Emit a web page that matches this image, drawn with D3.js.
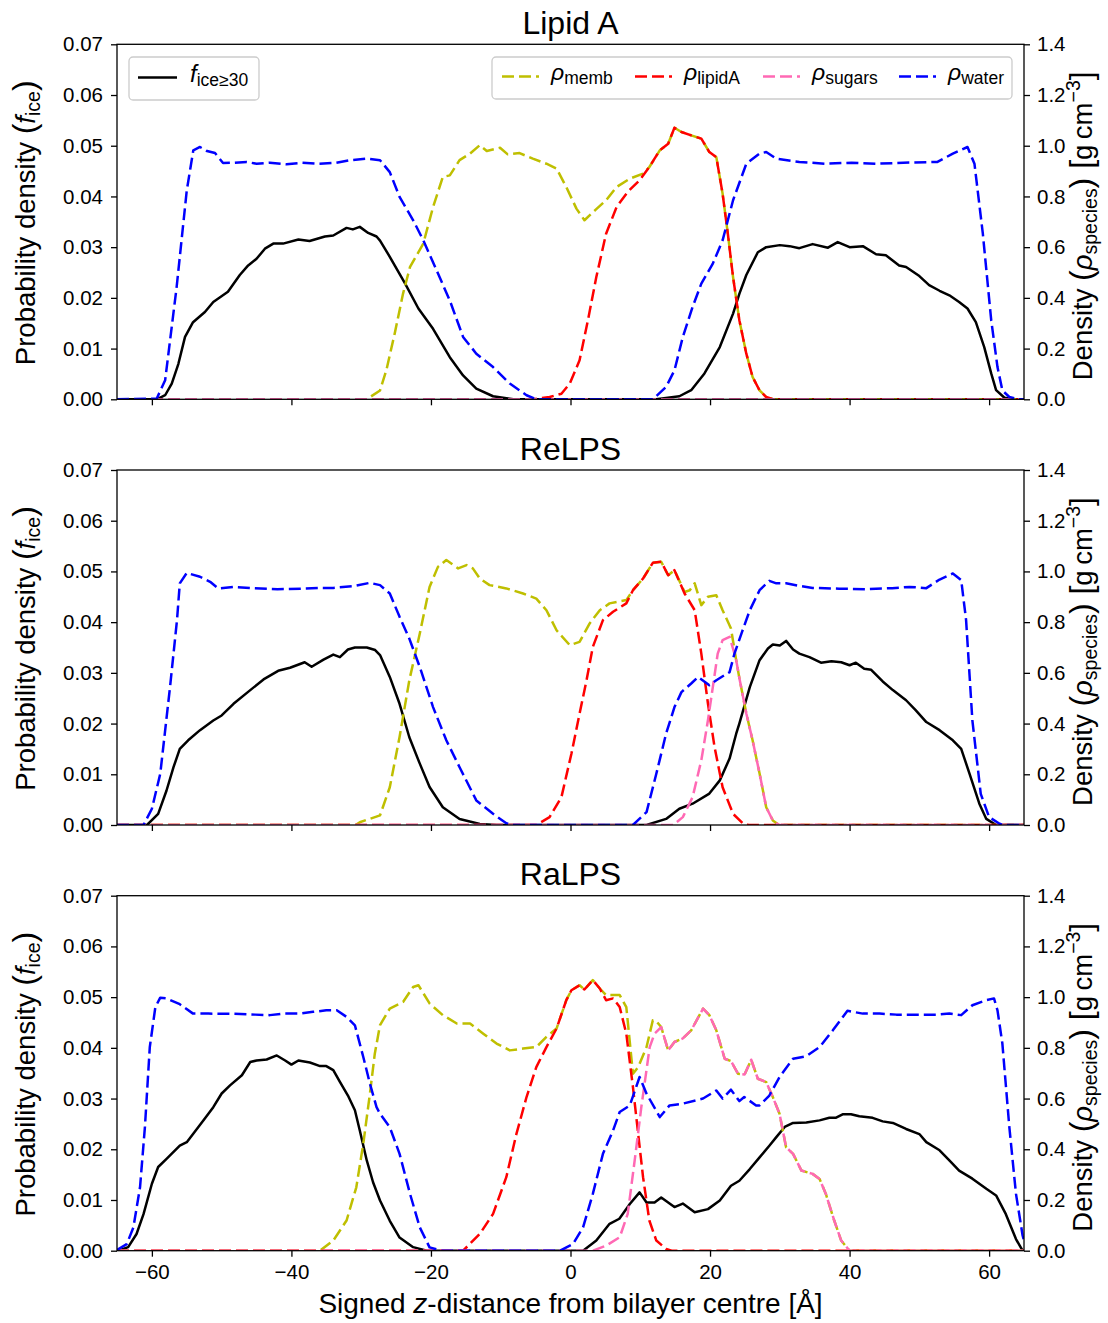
<!DOCTYPE html>
<html>
<head>
<meta charset="utf-8">
<script src="https://cdn.jsdelivr.net/npm/d3@7"></script>
<style>
  body { margin: 0; background: #fff; }
  svg { font-family: "Liberation Sans", Arial, Helvetica, sans-serif; }
</style>
</head>
<body>
<script>
'use strict';

// ---- data: [z (Angstrom), value] ----
// f_ice on left axis, densities (g cm^-3) on right axis

const panelTitles = ['Lipid A', 'ReLPS', 'RaLPS'];
const xTicks = [-60, -40, -20, 0, 20, 40, 60];
const leftTicks = [0, 0.01, 0.02, 0.03, 0.04, 0.05, 0.06, 0.07];
const rightTicks = [0, 0.2, 0.4, 0.6, 0.8, 1.0, 1.2, 1.4];

// Lipid A
const lipidA_fice = [[-65,0],[-59.3,0],[-58.1,0.0008],[-57.15,0.0031],[-56.2,0.0070],[-55.25,0.0123],[-54.1,0.0152],[-52.4,0.0172],[-51.2,0.0192],[-49.1,0.0212],[-47.4,0.0245],[-46.2,0.0264],[-45.0,0.0277],[-43.8,0.0297],[-42.6,0.0307],[-41.2,0.0307],[-39.0,0.0315],[-37.4,0.0312],[-35.2,0.0321],[-34.0,0.0323],[-32.1,0.0338],[-31.2,0.0335],[-30.2,0.0340],[-29.0,0.0328],[-27.8,0.0321],[-27.3,0.0313],[-25.9,0.0281],[-23.7,0.0228],[-21.8,0.0179],[-19.7,0.0139],[-17.3,0.0083],[-15.4,0.0047],[-13.5,0.0021],[-11.1,0.0006],[-8.2,0],[12.3,0],[15.6,0.0006],[17.3,0.0018],[19.2,0.0051],[21.4,0.0103],[23.3,0.0169],[24.2,0.0208],[25.2,0.0245],[26.85,0.029],[28.05,0.030],[30.0,0.0304],[31.4,0.0302],[32.8,0.0298],[34.7,0.0306],[36.9,0.0299],[38.3,0.031],[40.0,0.030],[41.9,0.0302],[43.8,0.0286],[45.2,0.0284],[47.1,0.0264],[48.1,0.0261],[50.0,0.0243],[51.4,0.0225],[52.9,0.0214],[54.3,0.0205],[55.7,0.0192],[56.9,0.0179],[58.1,0.0152],[59.3,0.0103],[60.3,0.0051],[61.0,0.0018],[62.2,0.0003],[63.5,0],[65,0]];
const lipidA_memb = [[-65,0],[-29.2,0],[-27.3,0.035],[-26.4,0.114],[-25.2,0.259],[-24.0,0.417],[-23.0,0.522],[-21.1,0.614],[-19.7,0.758],[-18.3,0.877],[-17.3,0.883],[-15.9,0.943],[-14.4,0.969],[-13.0,1.002],[-12.0,0.979],[-10.1,0.992],[-9.0,0.966],[-7.3,0.971],[-5.4,0.949],[-3.45,0.929],[-2.0,0.91],[-0.6,0.837],[0.85,0.752],[2.0,0.706],[3.5,0.745],[5.1,0.785],[6.6,0.837],[8.5,0.870],[10.4,0.89],[11.3,0.916],[12.8,0.982],[14.0,1.008],[14.9,1.071],[15.9,1.054],[17.3,1.041],[18.75,1.028],[19.9,0.975],[20.9,0.955],[21.8,0.811],[22.55,0.653],[23.3,0.482],[24.2,0.312],[25.2,0.18],[26.1,0.088],[27.1,0.035],[28.05,0.009],[29,0],[65,0]];
const lipidA_lipidA = [[-65,0],[-5.4,0],[-3.0,0.009],[-1.3,0.022],[-0.1,0.062],[1.3,0.154],[2.5,0.312],[3.7,0.482],[5.1,0.653],[6.6,0.758],[8.2,0.818],[9.9,0.864],[11.3,0.916],[12.8,0.982],[14.0,1.008],[14.9,1.071],[15.9,1.054],[17.3,1.041],[18.75,1.028],[19.9,0.975],[20.9,0.955],[21.8,0.811],[22.55,0.653],[23.3,0.482],[24.2,0.312],[25.2,0.18],[26.1,0.088],[27.1,0.035],[28.05,0.009],[29,0],[65,0]];
const lipidA_sugars = [[-65,0],[65,0]];
const lipidA_water = [[-65,0],[-59.3,0.003],[-58.1,0.075],[-56.45,0.443],[-55.0,0.824],[-54.06,0.982],[-53.1,0.995],[-52.1,0.979],[-50.95,0.971],[-49.8,0.932],[-48.3,0.933],[-46.4,0.936],[-45.0,0.929],[-43.1,0.933],[-40.7,0.927],[-38.5,0.933],[-36.1,0.929],[-33.8,0.932],[-31.6,0.943],[-29.2,0.949],[-27.3,0.943],[-25.9,0.896],[-24.5,0.798],[-22.55,0.706],[-21.1,0.627],[-19.2,0.509],[-17.3,0.39],[-15.4,0.246],[-13.5,0.18],[-11.1,0.127],[-8.7,0.062],[-6.3,0.016],[-4.9,0],[11.8,0],[13.7,0.049],[14.9,0.114],[16.1,0.246],[17.5,0.364],[18.75,0.456],[20.4,0.535],[21.8,0.627],[23.3,0.785],[25.2,0.929],[27.1,0.969],[28.05,0.975],[29.5,0.949],[32.8,0.936],[36.6,0.929],[40.3,0.933],[43.9,0.929],[47.7,0.933],[52.6,0.936],[54.8,0.969],[56.9,0.995],[57.9,0.929],[59.1,0.653],[60.3,0.312],[61.2,0.127],[61.9,0.035],[62.9,0.009],[64.2,0],[65,0]];

// ReLPS
const reLPS_fice = [[-65,0],[-60.7,0],[-59.1,0.0022],[-57.9,0.0068],[-56.9,0.0114],[-56.0,0.015],[-54.8,0.0167],[-53.1,0.0187],[-51.2,0.0206],[-50.0,0.0216],[-48.3,0.0239],[-45.9,0.0266],[-44.0,0.0287],[-41.9,0.0304],[-40.2,0.031],[-38.1,0.0321],[-37.1,0.0312],[-35.4,0.0326],[-34.0,0.0336],[-33.05,0.0331],[-31.9,0.0346],[-30.9,0.035],[-29.2,0.035],[-28.0,0.0345],[-27.3,0.0335],[-25.9,0.0292],[-24.5,0.0239],[-23.1,0.0173],[-21.6,0.0121],[-20.2,0.0075],[-18.3,0.0035],[-15.9,0.0012],[-13.0,0.0002],[-10.6,0],[10.9,0],[13.7,0.0012],[15.6,0.0032],[17.5,0.0042],[19.9,0.0062],[21.4,0.0088],[22.8,0.0131],[23.75,0.018],[24.2,0.02],[25.7,0.0272],[27.1,0.0325],[28.3,0.0348],[29.0,0.0356],[30.0,0.0354],[30.9,0.0363],[31.9,0.0346],[32.8,0.0338],[34.25,0.0331],[35.9,0.032],[37.4,0.0323],[38.8,0.0321],[40.0,0.0315],[40.9,0.032],[42.1,0.0308],[43.1,0.0306],[44.75,0.0283],[46.2,0.0266],[48.1,0.0246],[49.5,0.0226],[51.0,0.0203],[52.9,0.0187],[54.8,0.0167],[56.0,0.015],[57.2,0.0101],[58.6,0.0042],[59.6,0.0012],[61.0,0],[65,0]];
const reLPS_memb = [[-65,0],[-30.8,0],[-30.2,0.011],[-27.3,0.038],[-25.9,0.149],[-24.5,0.347],[-23.1,0.571],[-21.6,0.755],[-20.2,0.939],[-19.0,1.018],[-17.8,1.045],[-16.1,1.012],[-14.9,1.025],[-14.0,1.012],[-13.0,0.972],[-11.6,0.946],[-9.2,0.933],[-6.8,0.913],[-4.9,0.893],[-3.45,0.847],[-2.0,0.768],[-0.1,0.709],[1.3,0.722],[2.75,0.795],[4.2,0.847],[5.6,0.874],[8.0,0.887],[8.95,0.926],[10.4,0.972],[11.8,1.034],[13.0,1.038],[14.0,0.985],[14.9,1.005],[16.35,0.919],[17.1,0.926],[17.8,0.953],[18.75,0.867],[19.7,0.9],[20.9,0.906],[21.8,0.847],[23.0,0.775],[23.75,0.65],[24.2,0.58],[25.2,0.44],[26.1,0.334],[27.1,0.203],[28.05,0.07],[29.0,0.018],[29.9,0],[65,0]];
const reLPS_lipidA = [[-65,0],[-4.9,0],[-3.0,0.031],[-1.3,0.11],[0.13,0.281],[1.3,0.439],[2.3,0.571],[3.2,0.702],[4.65,0.808],[6.1,0.841],[8.0,0.874],[8.95,0.926],[10.4,0.972],[11.8,1.034],[13.0,1.038],[14.0,0.985],[14.9,1.005],[16.35,0.913],[17.8,0.847],[18.75,0.676],[19.7,0.479],[20.65,0.307],[21.8,0.149],[23.3,0.044],[24.7,0.007],[25.5,0],[65,0]];
const reLPS_sugars = [[-65,0],[14.7,0],[16.1,0.031],[17.5,0.11],[18.75,0.255],[19.7,0.413],[20.4,0.544],[21.1,0.676],[21.8,0.729],[22.8,0.742],[23.5,0.676],[23.75,0.65],[24.2,0.58],[25.2,0.44],[26.1,0.334],[27.1,0.203],[28.05,0.07],[29.0,0.018],[29.9,0],[65,0]];
const reLPS_water = [[-65,0],[-61.2,0],[-60.0,0.064],[-58.8,0.202],[-57.4,0.544],[-56.4,0.808],[-56.0,0.953],[-55.0,0.994],[-53.1,0.979],[-51.65,0.959],[-50.5,0.933],[-48.3,0.939],[-45.5,0.934],[-42.0,0.930],[-38.7,0.932],[-36.0,0.935],[-34.0,0.935],[-31.15,0.942],[-28.75,0.955],[-27.3,0.946],[-25.9,0.913],[-24.5,0.821],[-23.1,0.735],[-21.6,0.623],[-19.7,0.465],[-17.8,0.334],[-15.9,0.228],[-13.5,0.097],[-11.1,0.044],[-9.2,0.007],[-8.3,0],[8.95,0],[10.9,0.051],[12.3,0.202],[13.7,0.36],[14.9,0.465],[15.9,0.524],[17.3,0.558],[18.3,0.584],[19.9,0.551],[20.9,0.571],[22.8,0.603],[23.5,0.676],[24.5,0.755],[25.7,0.847],[27.1,0.926],[28.5,0.963],[29.5,0.953],[30.9,0.953],[32.8,0.943],[34.7,0.935],[38.5,0.932],[42.3,0.93],[46.1,0.934],[48.6,0.939],[51.0,0.934],[52.9,0.968],[54.8,0.992],[56.0,0.966],[56.7,0.808],[57.6,0.413],[58.8,0.123],[60.0,0.031],[61.5,0.005],[62,0],[65,0]];

// RaLPS
const raLPS_fice = [[-65,0],[-64.8,0],[-63.4,0.0007],[-62.2,0.0033],[-61.2,0.0072],[-60.0,0.0132],[-59.1,0.0165],[-57.9,0.0181],[-56.0,0.0207],[-55.0,0.0214],[-54.1,0.023],[-52.6,0.0257],[-51.2,0.0283],[-50.0,0.031],[-48.8,0.0326],[-47.1,0.0346],[-45.9,0.0372],[-45.0,0.0375],[-43.55,0.0377],[-42.1,0.0385],[-40.9,0.0375],[-40.0,0.0367],[-39.0,0.0375],[-37.35,0.0371],[-35.9,0.0364],[-35.0,0.0364],[-34.0,0.0356],[-33.05,0.0333],[-31.9,0.0306],[-30.9,0.0277],[-30.2,0.0237],[-29.2,0.0178],[-28.3,0.0135],[-27.3,0.0099],[-25.9,0.0059],[-24.5,0.0026],[-22.55,0.0007],[-20.6,0],[1.8,0],[3.7,0.002],[5.6,0.0053],[7.0,0.0063],[8.5,0.0092],[9.9,0.0115],[10.9,0.0095],[12.05,0.0095],[13.0,0.0105],[14.9,0.0086],[16.1,0.0093],[17.8,0.0076],[19.7,0.0082],[21.4,0.0099],[23.0,0.0128],[24.2,0.0138],[25.7,0.0161],[27.1,0.0184],[28.5,0.0207],[29.5,0.0224],[30.7,0.0244],[31.9,0.0252],[33.8,0.0253],[35.7,0.0257],[37.1,0.0262],[38.0,0.0262],[39.0,0.0269],[40.2,0.0269],[41.4,0.0265],[43.3,0.0262],[44.75,0.0255],[46.2,0.0252],[48.1,0.024],[50.0,0.023],[51.0,0.0214],[52.9,0.0198],[54.3,0.0178],[55.7,0.0158],[57.6,0.0142],[59.6,0.0122],[61.0,0.0109],[62.4,0.0072],[63.85,0.0023],[64.8,0],[65,0]];
const raLPS_memb = [[-65,0],[-35.9,0],[-34.0,0.04],[-32.1,0.119],[-30.7,0.25],[-29.7,0.422],[-28.75,0.619],[-28.05,0.777],[-27.3,0.89],[-25.9,0.955],[-24.0,0.981],[-22.55,1.04],[-21.8,1.047],[-20.2,0.975],[-18.3,0.929],[-16.3,0.896],[-14.4,0.896],[-12.5,0.856],[-10.6,0.817],[-8.7,0.79],[-6.8,0.797],[-4.9,0.803],[-3.45,0.843],[-2.0,0.876],[-0.6,0.988],[0.13,1.027],[1.3,1.047],[2.0,1.03],[3.2,1.067],[4.2,1.034],[5.1,1.008],[7.05,1.008],[8.0,0.961],[8.95,0.698],[9.7,0.724],[10.9,0.803],[11.8,0.909],[12.3,0.905],[13.0,0.882],[14.0,0.79],[14.9,0.823],[16.1,0.837],[17.3,0.869],[19.0,0.955],[19.9,0.929],[20.9,0.869],[22.1,0.757],[23.0,0.748],[24.0,0.698],[24.95,0.695],[25.9,0.753],[26.85,0.678],[28.05,0.665],[29.0,0.606],[29.96,0.54],[30.9,0.408],[31.9,0.382],[33.1,0.316],[34.7,0.303],[35.7,0.283],[36.6,0.224],[37.8,0.119],[38.8,0.04],[40.0,0],[65,0]];
const raLPS_lipidA = [[-65,0],[-15.4,0],[-13.0,0.066],[-11.1,0.145],[-9.2,0.29],[-7.75,0.461],[-6.3,0.606],[-4.9,0.724],[-3.45,0.803],[-2.0,0.876],[-0.6,0.988],[0.13,1.027],[1.3,1.047],[2.0,1.03],[3.2,1.067],[4.2,1.034],[5.1,0.988],[6.1,0.995],[7.05,0.961],[8.0,0.856],[8.95,0.645],[9.7,0.461],[10.4,0.29],[11.3,0.119],[12.3,0.04],[13.7,0.007],[14.5,0],[65,0]];
const raLPS_sugars = [[-65,0],[3.2,0],[5.1,0.02],[7.05,0.053],[8.2,0.145],[9.2,0.356],[10.15,0.566],[11.35,0.803],[12.05,0.856],[13.0,0.882],[14.0,0.79],[14.9,0.823],[16.1,0.837],[17.3,0.869],[19.0,0.955],[19.9,0.929],[20.9,0.869],[22.1,0.757],[23.0,0.748],[24.0,0.698],[24.95,0.695],[25.9,0.753],[26.85,0.678],[28.05,0.665],[29.0,0.606],[29.96,0.54],[30.9,0.408],[31.9,0.382],[33.1,0.316],[34.7,0.303],[35.7,0.283],[36.6,0.224],[37.8,0.119],[38.8,0.04],[40.0,0],[65,0]];
const raLPS_water = [[-65,0.003],[-63.6,0.026],[-62.65,0.092],[-61.7,0.25],[-61.0,0.487],[-60.3,0.803],[-59.5,0.961],[-58.8,0.998],[-57.9,0.995],[-56.0,0.972],[-54.1,0.935],[-51.9,0.935],[-48.2,0.934],[-45.2,0.931],[-43.1,0.929],[-41.2,0.935],[-38.8,0.935],[-36.9,0.942],[-35.0,0.948],[-33.5,0.948],[-32.1,0.922],[-30.9,0.889],[-29.7,0.764],[-28.75,0.659],[-27.8,0.566],[-27.3,0.54],[-25.9,0.487],[-24.5,0.382],[-23.0,0.224],[-21.6,0.092],[-20.2,0.013],[-18.5,0],[-1.5,0],[0.36,0.026],[1.8,0.092],[3.2,0.224],[4.65,0.382],[6.1,0.474],[7.05,0.547],[8.5,0.573],[9.9,0.685],[10.9,0.619],[12.8,0.527],[14.2,0.573],[16.1,0.58],[19.0,0.6],[20.9,0.632],[21.8,0.6],[23.0,0.635],[24.2,0.59],[24.9,0.606],[26.6,0.573],[27.1,0.573],[28.5,0.612],[29.96,0.685],[31.9,0.757],[33.8,0.767],[35.7,0.803],[37.6,0.869],[39.7,0.946],[41.9,0.935],[44.3,0.935],[46.7,0.931],[49.6,0.931],[52.5,0.931],[54.3,0.935],[56.0,0.929],[57.6,0.968],[59.6,0.988],[60.7,0.995],[61.2,0.948],[61.9,0.817],[62.9,0.487],[63.85,0.224],[64.8,0.06],[65,0.04]];

// ---- layout ----
const W = 1108, H = 1323;
const plotLeft = 117, plotRight = 1024;
const panelTops = [44.3, 470, 895.7];
const panelH = 355;

const species = [
  { key: 'memb',   color: '#bfbf00' },
  { key: 'lipidA', color: '#ff0000' },
  { key: 'sugars', color: '#ff69b4' },
  { key: 'water',  color: '#0000ff' }
];

const panels = [
  { fice: lipidA_fice, memb: lipidA_memb, lipidA: lipidA_lipidA, sugars: lipidA_sugars, water: lipidA_water },
  { fice: reLPS_fice,  memb: reLPS_memb,  lipidA: reLPS_lipidA,  sugars: reLPS_sugars,  water: reLPS_water },
  { fice: raLPS_fice,  memb: raLPS_memb,  lipidA: raLPS_lipidA,  sugars: raLPS_sugars,  water: raLPS_water }
];

const DASH = '12,5';
const LW = 2.5;

let svg = d3.select('body').append('svg')
  .attr('width', W)
  .attr('height', H)
  .style('background', '#fff');

let xScale = d3.scaleLinear().domain([-65, 65]).range([plotLeft, plotRight]);

panels.forEach((p, i) => drawPanel(p, i));
drawLegends();

// x label under the last panel
svg.append('text')
  .attr('x', (plotLeft + plotRight) / 2)
  .attr('y', 1313)
  .attr('text-anchor', 'middle')
  .style('font-size', '28px')
  .call(t => {
    t.append('tspan').text('Signed ');
    t.append('tspan').style('font-style', 'italic').text('z');
    t.append('tspan').text('-distance from bilayer centre [Å]');
  });

function drawPanel(p, i) {
  let top = panelTops[i];
  let bottom = top + panelH;

  let yLeft = d3.scaleLinear().domain([0, 0.07]).range([bottom, top]);
  let yRight = d3.scaleLinear().domain([0, 1.4]).range([bottom, top]);

  let g = svg.append('g');

  // clip lines to the axes box
  g.append('clipPath').attr('id', 'clip' + i)
    .append('rect')
    .attr('x', plotLeft).attr('y', top)
    .attr('width', plotRight - plotLeft).attr('height', panelH);

  let lines = g.append('g').attr('clip-path', 'url(#clip' + i + ')');

  // f_ice on the left axis (solid black)
  let ficeLine = d3.line().x(d => xScale(d[0])).y(d => yLeft(d[1]));
  lines.append('path')
    .attr('d', ficeLine(p.fice))
    .attr('fill', 'none')
    .attr('stroke', '#000')
    .attr('stroke-width', LW)
    .attr('stroke-linejoin', 'round');

  // densities on the right axis (dashed)
  let rhoLine = d3.line().x(d => xScale(d[0])).y(d => yRight(d[1]));
  species.forEach(s => {
    lines.append('path')
      .attr('d', rhoLine(p[s.key]))
      .attr('fill', 'none')
      .attr('stroke', s.color)
      .attr('stroke-width', LW)
      .attr('stroke-dasharray', DASH)
      .attr('stroke-linejoin', 'round');
  });

  // axes
  let xAxis = d3.axisBottom(xScale).tickValues(xTicks).tickSize(6).tickPadding(8)
    .tickFormat(i === 2 ? d3.format('d') : () => '');
  let gx = g.append('g').attr('transform', `translate(0, ${bottom})`).call(xAxis);

  let leftAxis = d3.axisLeft(yLeft).tickValues(leftTicks).tickSize(6).tickPadding(8)
    .tickFormat(d3.format('.2f'));
  let gl = g.append('g').attr('transform', `translate(${plotLeft}, 0)`).call(leftAxis);

  let rightAxis = d3.axisRight(yRight).tickValues(rightTicks).tickSize(6).tickPadding(7)
    .tickFormat(d3.format('.1f'));
  let gr = g.append('g').attr('transform', `translate(${plotRight}, 0)`).call(rightAxis);

  [gx, gl, gr].forEach(a => {
    a.select('.domain').remove();
    a.selectAll('.tick line').attr('stroke', '#000').attr('stroke-width', 1.3);
    a.selectAll('.tick text')
      .attr('fill', '#000')
      .style('font-size', '20.5px')
      .style('font-family', '"Liberation Sans", Arial, sans-serif');
  });

  // spines
  g.append('rect')
    .attr('x', plotLeft).attr('y', top)
    .attr('width', plotRight - plotLeft).attr('height', panelH)
    .attr('fill', 'none')
    .attr('stroke', '#000')
    .attr('stroke-width', 1.3);

  // title
  g.append('text')
    .attr('x', (plotLeft + plotRight) / 2)
    .attr('y', top - 10.5)
    .attr('text-anchor', 'middle')
    .style('font-size', '32px')
    .text(panelTitles[i]);

  let mid = (top + bottom) / 2;

  // left y label
  g.append('text')
    .attr('transform', `translate(35, ${mid + 1}) rotate(-90)`)
    .attr('text-anchor', 'middle')
    .style('font-size', '27.5px')
    .call(t => {
      t.append('tspan').text('Probability density ');
      t.append('tspan').style('font-size', '32px').text('(');
      t.append('tspan').style('font-style', 'italic').text('f');
      t.append('tspan').style('font-size', '19.5px').attr('dy', 5).text('ice');
      t.append('tspan').style('font-size', '32px').attr('dy', -5).text(')');
    });

  // right y label
  g.append('text')
    .attr('transform', `translate(1092, ${mid + 4}) rotate(-90)`)
    .attr('text-anchor', 'middle')
    .style('font-size', '27.5px')
    .call(t => {
      t.append('tspan').text('Density ');
      t.append('tspan').style('font-size', '32px').text('(');
      t.append('tspan').style('font-style', 'italic').text('ρ');
      t.append('tspan').style('font-size', '19.5px').attr('dy', 5).text('species');
      t.append('tspan').style('font-size', '32px').attr('dy', -5).text(')');
      t.append('tspan').style('font-size', '32px').text(' [');
      t.append('tspan').text('g\u2009cm');
      t.append('tspan').style('font-size', '19.5px').attr('dy', -12).text('−3');
      t.append('tspan').style('font-size', '32px').attr('dy', 12).text(']');
    });
}

function drawLegends() {
  // f_ice legend (left axis)
  let l1 = svg.append('g');
  l1.append('rect')
    .attr('x', 129).attr('y', 57).attr('width', 130).attr('height', 43)
    .attr('rx', 4)
    .attr('fill', 'rgba(255,255,255,0.8)')
    .attr('stroke', '#cccccc')
    .attr('stroke-width', 1.3);
  l1.append('line')
    .attr('x1', 138).attr('x2', 177).attr('y1', 77.5).attr('y2', 77.5)
    .attr('stroke', '#000').attr('stroke-width', LW);
  l1.append('text')
    .attr('x', 190).attr('y', 82)
    .style('font-size', '24px')
    .call(t => {
      t.append('tspan').style('font-style', 'italic').text('f');
      t.append('tspan').style('font-size', '17.5px').attr('dy', 4).text('ice≥30');
    });

  // density legend (right axis)
  let l2 = svg.append('g');
  l2.append('rect')
    .attr('x', 492).attr('y', 57).attr('width', 520).attr('height', 42)
    .attr('rx', 4)
    .attr('fill', 'rgba(255,255,255,0.8)')
    .attr('stroke', '#cccccc')
    .attr('stroke-width', 1.3);

  let items = [
    { color: '#bfbf00', sub: 'memb',   x: 502 },
    { color: '#ff0000', sub: 'lipidA', x: 635 },
    { color: '#ff69b4', sub: 'sugars', x: 763 },
    { color: '#0000ff', sub: 'water',  x: 899 }
  ];
  items.forEach(it => {
    l2.append('line')
      .attr('x1', it.x).attr('x2', it.x + 37).attr('y1', 76.5).attr('y2', 76.5)
      .attr('stroke', it.color).attr('stroke-width', LW)
      .attr('stroke-dasharray', DASH);
    l2.append('text')
      .attr('x', it.x + 49).attr('y', 80)
      .style('font-size', '23px')
      .call(t => {
        t.append('tspan').style('font-style', 'italic').text('ρ');
        t.append('tspan').style('font-size', '17.5px').attr('dy', 3.5).text(it.sub);
      });
  });
}
</script>
</body>
</html>
